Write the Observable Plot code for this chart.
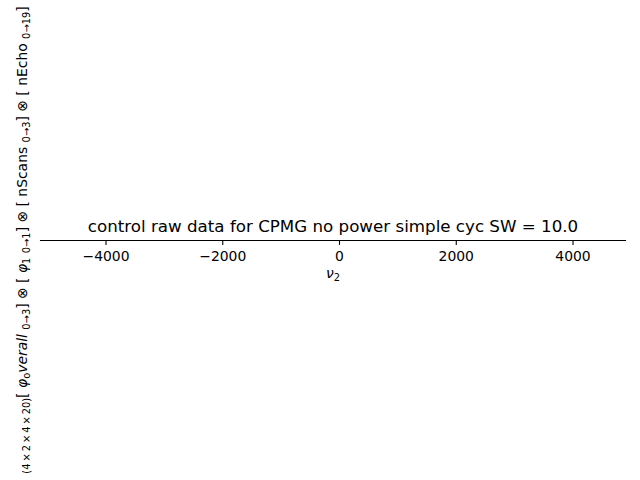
<!DOCTYPE html>
<html><head><meta charset="utf-8">
<script src="https://cdn.jsdelivr.net/npm/d3@7"></script>
<script src="https://cdn.jsdelivr.net/npm/@observablehq/plot@0.6"></script>
<style>body{margin:0;background:#fff}</style>
</head><body><div id="chart"></div>
<script>
const xDomain = [-5122, 4899];
const xTicks = [-4000, -2000, 0, 2000, 4000];
const titleText = "control raw data for CPMG no power simple cyc SW = 10.0";
const xLabel = "ν2";
// y label segments: [text, kind] kind: n=normal, s=subscript, i=italic
const yLabelParts = [
  ["(4\u2009×\u20092\u2009×\u20094\u2009×\u200920)", "s"], ["[ ", "n"], ["φ", "i"], ["o", "s"], ["verall", "i"], [" ", "n"], ["0→3", "s"], ["] ⊗ [ ", "n"],
  ["φ", "i"], ["1", "s"], [" ", "n"], ["0→1", "s"], ["] ⊗ [ nScans ", "n"], ["0→3", "s"], ["] ⊗ [ nEcho ", "n"], ["0→19", "s"], ["]", "n"]
];
const yLabelPlain = yLabelParts.map(d => d[0]).join("");

const font = "DejaVu Sans, sans-serif";
const svg = Plot.plot({
  width: 640, height: 480,
  marginLeft: 40, marginRight: 15, marginTop: 239, marginBottom: 240,
  style: {fontFamily: font, fontSize: "13.9px", background: "#fff", color: "#000"},
  x: {domain: xDomain},
  y: {axis: null, domain: [0, 1]},
  marks: [
    Plot.frame({anchor: "bottom", stroke: "#000", strokeWidth: 1.1, strokeOpacity: 1}),
    Plot.axisX({anchor: "bottom", ticks: xTicks, tickFormat: d3.format("d"), tickSize: 4.9, tickPadding: 5.5, strokeWidth: 1.1, fontSize: 13.9, label: null}),
    Plot.text([titleText], {frameAnchor: "top", dy: -8, lineAnchor: "bottom", fontSize: 16.7, fill: "#000", text: d => d}),
    Plot.text([xLabel], {frameAnchor: "bottom", dy: 28, lineAnchor: "top", fontSize: 13.9, fill: "#000", text: d => d, className: "xlab"}),
    Plot.text([yLabelPlain], {frameAnchor: "left", dx: -18, rotate: -90, textAnchor: "middle", lineAnchor: "middle", fontSize: 13.9, fill: "#000", text: d => d, className: "ylab"})
  ]
});
document.getElementById("chart").appendChild(svg);

// rich text: y label
const yt = d3.select(svg).select(".ylab text");
yt.text(null);
let shifted = false;
for (const [t, k] of yLabelParts) {
  const ts = yt.append("tspan").text(t);
  if (k === "s") {
    ts.attr("font-size", "9.9px");
    if (!shifted) { ts.attr("dy", "3"); shifted = true; }
  } else {
    if (shifted) { ts.attr("dy", "-3"); shifted = false; }
    if (k === "i") ts.attr("font-style", "italic");
  }
}
// x label: italic nu with subscript 2
const xt = d3.select(svg).select(".xlab text");
xt.text(null);
xt.append("tspan").attr("font-style", "italic").text("ν");
xt.append("tspan").attr("font-size", "9.9px").attr("dy", "3").text("2");
</script>
</body></html>
